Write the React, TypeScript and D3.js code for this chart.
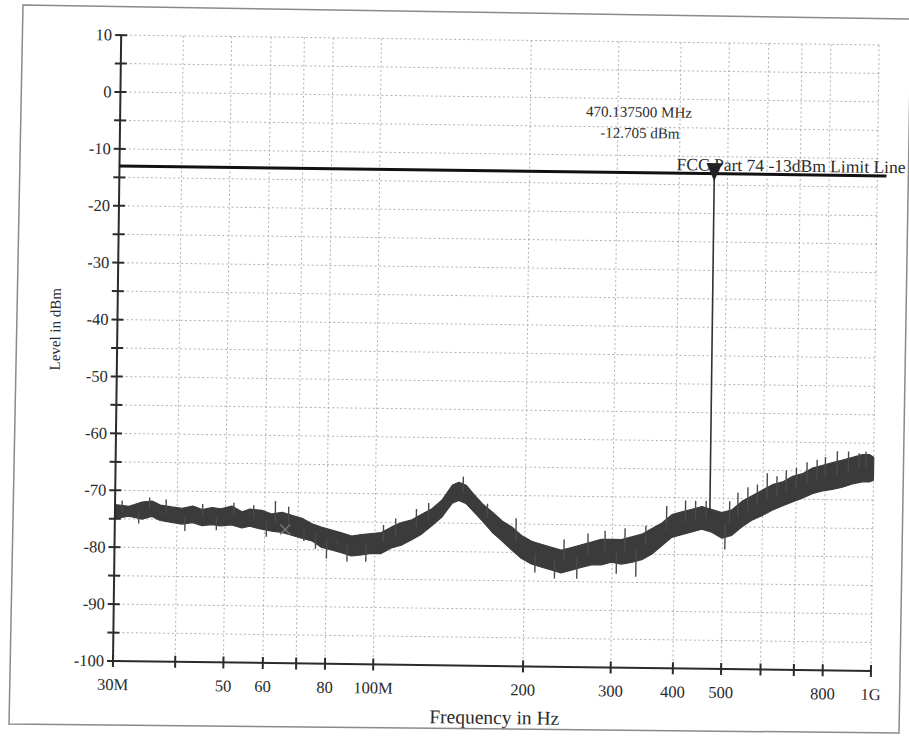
import React from "react";
import * as d3 from "d3";

// ---- data ----
const FREQ_MHZ = [30, 32, 34, 35.6, 37, 39, 40.9, 43, 44.9, 47, 49, 51.5, 54, 56, 59.2, 62, 65, 68, 71.3, 75, 78, 81.9, 86, 89.8, 94, 98.5, 103, 108, 113, 118.6, 124, 130, 136, 142.7, 147, 152, 158, 164, 172, 180, 188, 197, 206.5, 216, 226.5, 237, 248.5, 260, 272.6, 285, 299, 313, 328, 344, 360, 377, 394.6, 413, 433, 453, 475, 497, 521, 545, 571, 598, 627, 657, 688, 720, 754, 790, 827, 866, 907, 950, 982, 1000];
const LEVEL_LOW = [-75, -74.5, -75, -74.5, -75.2, -75.5, -75.8, -75.5, -76, -75.8, -76, -75.8, -76.3, -76, -76.5, -76.8, -77, -77.5, -78, -78.5, -79.5, -80, -80.5, -81, -80.8, -80.5, -80.5, -79.5, -79, -78, -77, -75.5, -74, -71.5, -71, -71.5, -73, -74.5, -76.5, -78, -79.5, -81, -82, -82.5, -83, -83.5, -83, -82.5, -82, -82, -81.5, -81.8, -81.5, -81, -80, -78.5, -77, -76.5, -76, -75.5, -76, -77, -76.5, -75, -73.8, -73, -72, -71.2, -70.5, -69.8, -69, -68.5, -68.2, -67.8, -67.2, -66.8, -66.8, -66.5];
const LEVEL_HIGH = [-72.5, -72.8, -72, -71.8, -72.5, -72.8, -73, -72.6, -73.2, -72.8, -73, -72.5, -73.5, -73, -73.2, -73.8, -73.5, -74, -74.5, -75.5, -76, -76.5, -77, -77.5, -77.2, -77, -76.8, -75.8, -75, -74.5, -73.5, -72.5, -71, -68.3, -67.8, -68.3, -70, -71.5, -73, -74.5, -75.5, -77, -78, -78.5, -79, -79.5, -79, -78.5, -78, -77.5, -77.5, -77.5, -77, -76.5, -75.5, -74.5, -73, -72.5, -72, -71.5, -72, -72.5, -72, -70.5, -69.5, -68.5, -67.5, -67, -66, -65.5, -64.5, -64, -63.5, -63, -62.5, -62, -62, -62.5];
// isolated noise spikes (frequency, tip level)
const SPIKE_FREQ = [31, 33.5, 35.2, 38, 41.5, 45, 48, 52, 57, 60.5, 63, 67, 72, 76, 80, 84, 88, 96, 104, 110, 121, 128, 150, 168, 192, 210, 230, 240, 255, 268, 290, 306, 318, 335, 350, 385, 420, 440, 462, 505, 515, 535, 560, 585, 612, 640, 668, 700, 735, 770, 800, 845, 890, 935, 965];
const SPIKE_LEVEL = [-71.8, -75.8, -71.2, -71.5, -77, -72.2, -76.8, -71.9, -72.3, -77.8, -71.5, -72.5, -78.5, -79.8, -81.5, -79, -82, -82, -75.5, -74.3, -72.6, -71.5, -66.8, -71.5, -74, -83.5, -84.5, -77.6, -84.5, -76.5, -76, -83.5, -75.5, -84, -75, -71.5, -70.5, -70.5, -70.5, -79, -70.5, -69, -68, -67.5, -65.5, -66, -65, -64.5, -63.5, -63, -62.5, -61.5, -61.5, -61.8, -61.5];

const Y_MAJOR = [10, 0, -10, -20, -30, -40, -50, -60, -70, -80, -90, -100];
const Y_MINOR = [5, -5, -15, -25, -35, -45, -55, -65, -75, -85, -95];
const X_TICKS = [30, 40, 50, 60, 70, 80, 100, 200, 300, 400, 500, 600, 700, 800, 1000];
const X_LABELS = ["30M", "", "50", "60", "", "80", "100M", "200", "300", "400", "500", "", "", "800", "1G"];

const LIMIT_DBM = -13;
const LIMIT_LABEL = "FCC Part 74 -13dBm Limit Line";
const MARKER_FREQ = 470.1375;
const MARKER_LEVEL = -12.705;
const MARKER_BOTTOM = -73;
const MARKER_TEXT = ["470.137500 MHz", "-12.705 dBm"];
const CROSS_FREQ = 66;
const CROSS_LEVEL = -76.5;

// ---- layout ----
const W = 909;
const H = 736;
const X0 = 113;
const X1 = 871;
const YTOP = 35;
const YBOT = 661;
const TILT = 0.75;
const PAGE = [[23, 5], [911, 19], [899, 733], [9, 724]];
const INK = "#2b2b2b";
const TRACE = "#3b3b3b";
const FONT = "'Liberation Serif', 'Times New Roman', serif";

export default function App() {
  const x = d3.scaleLog().domain([30, 1000]).range([X0, X1]);
  const y = d3.scaleLinear().domain([-100, 10]).range([YBOT, YTOP]);

  const pts = FREQ_MHZ.map((f, i) => ({ f, lo: LEVEL_LOW[i], hi: LEVEL_HIGH[i] }));
  const area = d3
    .area<{ f: number; lo: number; hi: number }>()
    .x((d) => x(d.f))
    .y0((d) => y(d.lo))
    .y1((d) => y(d.hi));

  const midAt = (f: number) => {
    const i = Math.max(1, d3.bisectLeft(FREQ_MHZ, f));
    const a = pts[i - 1];
    const b = pts[Math.min(i, pts.length - 1)];
    const t = b.f === a.f ? 0 : (Math.log(f) - Math.log(a.f)) / (Math.log(b.f) - Math.log(a.f));
    return ((a.lo + a.hi) / 2) * (1 - t) + ((b.lo + b.hi) / 2) * t;
  };

  const mx = x(MARKER_FREQ);
  const my = y(MARKER_LEVEL);
  const cx = x(CROSS_FREQ);
  const cy = y(CROSS_LEVEL);

  return (
    <svg width={W} height={H} style={{ position: "absolute", left: 0, top: 0, background: "#fff" }} fontFamily={FONT}>
      <rect width={W} height={H} fill="#fff" />
      <path d={"M" + PAGE.map((p) => p.join(",")).join("L") + "Z"} fill="none" stroke="#8a8a8a" strokeWidth={1.5} />
      <g transform={`rotate(${TILT},${X0},${YBOT})`}>
        {/* grid */}
        {[...Y_MAJOR, ...Y_MINOR].filter((v) => v !== -100).map((v) => (
          <line key={"gy" + v} x1={X0} x2={X1} y1={y(v)} y2={y(v)} stroke="#a9a9a9" strokeWidth={0.9} strokeDasharray="2,2.5" />
        ))}
        {X_TICKS.filter((f) => f !== 30).map((f) => (
          <line key={"gx" + f} x1={x(f)} x2={x(f)} y1={YTOP} y2={YBOT} stroke="#a9a9a9" strokeWidth={0.9} strokeDasharray="2,2.5" />
        ))}
        {/* trace */}
        <path d={area(pts) || ""} fill={TRACE} stroke={TRACE} strokeWidth={1.2} strokeLinejoin="round" />
        {SPIKE_FREQ.map((f, i) => (
          <line key={"sp" + i} x1={x(f)} x2={x(f)} y1={y(midAt(f))} y2={y(SPIKE_LEVEL[i])} stroke="#4a4a4a" strokeWidth={1.4} />
        ))}
        {/* cross marker */}
        <path d={`M${cx - 5},${cy - 5}L${cx + 5},${cy + 5}M${cx - 5},${cy + 5}L${cx + 5},${cy - 5}`} stroke="#777" strokeWidth={1.3} />
        {/* axes */}
        <line x1={X0} x2={X0} y1={YTOP} y2={YBOT} stroke={INK} strokeWidth={2} />
        <line x1={X0} x2={X1} y1={YBOT} y2={YBOT} stroke={INK} strokeWidth={2} />
        {[...Y_MAJOR, ...Y_MINOR].map((v) => (
          <line key={"ty" + v} x1={X0 - 6} x2={X0 + 6} y1={y(v)} y2={y(v)} stroke={INK} strokeWidth={2} />
        ))}
        {Y_MAJOR.map((v) => (
          <text key={"ly" + v} x={X0 - 9} y={y(v) + 5.5} textAnchor="end" fontSize={16.5} fill={INK}>
            {v}
          </text>
        ))}
        {X_TICKS.map((f, i) => (
          <g key={"tx" + f}>
            <line x1={x(f)} x2={x(f)} y1={YBOT - 6} y2={YBOT + 6} stroke={INK} strokeWidth={2} />
            {X_LABELS[i] && (
              <text x={x(f)} y={YBOT + 29} textAnchor="middle" fontSize={16.5} fill={INK}>
                {X_LABELS[i]}
              </text>
            )}
          </g>
        ))}
        {/* limit line */}
        <line x1={X0} x2={X1 + 9} y1={y(LIMIT_DBM)} y2={y(LIMIT_DBM)} stroke="#111" strokeWidth={3} />
        <text x={X1 + 28} y={y(LIMIT_DBM) - 3} textAnchor="end" fontSize={17.5} fill={INK}>
          {LIMIT_LABEL}
        </text>
        {/* marker */}
        <line x1={mx} x2={mx} y1={my} y2={y(MARKER_BOTTOM)} stroke="#333" strokeWidth={1.6} />
        <path d={`M${mx - 8},${my - 9}L${mx + 8},${my - 9}L${mx},${my + 9}Z`} fill="#222" />
        <text x={mx - 76} y={my - 54} textAnchor="middle" fontSize={15} fill={INK}>
          {MARKER_TEXT[0]}
        </text>
        <text x={mx - 75} y={my - 33} textAnchor="middle" fontSize={15} fill={INK}>
          {MARKER_TEXT[1]}
        </text>
        {/* axis titles */}
        <text x={495} y={YBOT + 58} textAnchor="middle" fontSize={19.5} fill={INK}>
          Frequency in Hz
        </text>
        <text transform={`translate(56,${330}) rotate(-90)`} textAnchor="middle" fontSize={15} fill={INK}>
          Level in dBm
        </text>
      </g>
    </svg>
  );
}
